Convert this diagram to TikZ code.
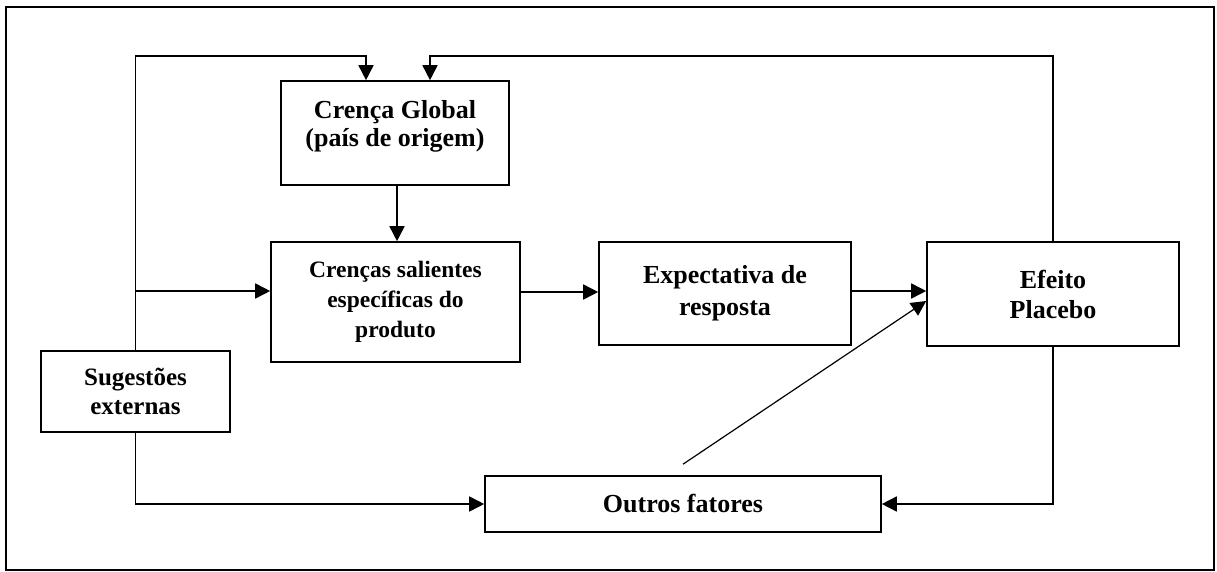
\documentclass[tikz,border=0pt]{standalone}
\usepackage{fontspec}
\setmainfont{Liberation Serif}
\usetikzlibrary{arrows.meta}
\begin{document}
\begin{tikzpicture}[x=1pt,y=-1pt,
  box/.style={draw,line width=1.6pt,rectangle,inner sep=0pt,align=center,
    font=\fontsize{26}{30}\selectfont\bfseries},
  arr/.style={line width=1.6pt,-{Triangle[length=15pt,width=15pt]}},
  ln/.style={line width=1.6pt}]
\useasboundingbox (0,0) rectangle (1217,572);
\draw[line width=1.4pt] (6,7) rectangle (1214,570);
\node[box,minimum width=228pt,minimum height=104pt,text depth=19pt] (cg) at (395,133)
  {Crença Global\\[-2pt](país de origem)};
\node[box,minimum width=249pt,minimum height=120pt,font=\fontsize{23.5}{30}\selectfont\bfseries] (cs) at (395.5,302)
  {Crenças salientes\\específicas do\\produto};
\node[box,minimum width=252pt,minimum height=103pt] (ex) at (725,293.5)
  {Expectativa de\\[2pt]resposta};
\node[box,minimum width=252pt,minimum height=104pt] (ef) at (1053,294)
  {Efeito\\Placebo};
\node[box,minimum width=189pt,minimum height=81pt,font=\fontsize{25}{29}\selectfont\bfseries] (sg) at (135.5,391.5)
  {Sugestões\\externas};
\node[box,minimum width=396pt,minimum height=56pt] (ou) at (683,504)
  {Outros fatores};
% feedback from Sugestoes to Crenca Global
\draw[arr] (sg.north) -- (sg.north |- 0,56) -- (366,56) -- ([xshift=-29pt]cg.north);
% Sugestoes to Crencas salientes
\draw[arr] (sg.north |- 0,291) -- (cs.west |- 0,291);
% Sugestoes to Outros fatores
\draw[arr] (sg.south) |- (ou.west);
% Crenca Global to Crencas salientes
\draw[arr] ([xshift=2pt]cg.south) -- ([xshift=1.5pt]cs.north);
% Crencas salientes to Expectativa
\draw[arr] (cs.east |- 0,292) -- (ex.west |- 0,292);
% Expectativa to Efeito
\draw[arr] (ex.east |- 0,291) -- (ef.west |- 0,291);
% Outros fatores to Efeito
\draw[line width=1.2pt,-{Triangle[length=15pt,width=15pt]}] ([yshift=11pt]ou.north) -- ([yshift=-7pt]ef.west);
% Efeito back to Crenca Global
\draw[arr] (ef.north) -- (ef.north |- 0,56) -- (430,56) -- ([xshift=35pt]cg.north);
% Efeito to Outros fatores
\draw[arr] (ef.south) |- (ou.east);
\end{tikzpicture}
\end{document}
